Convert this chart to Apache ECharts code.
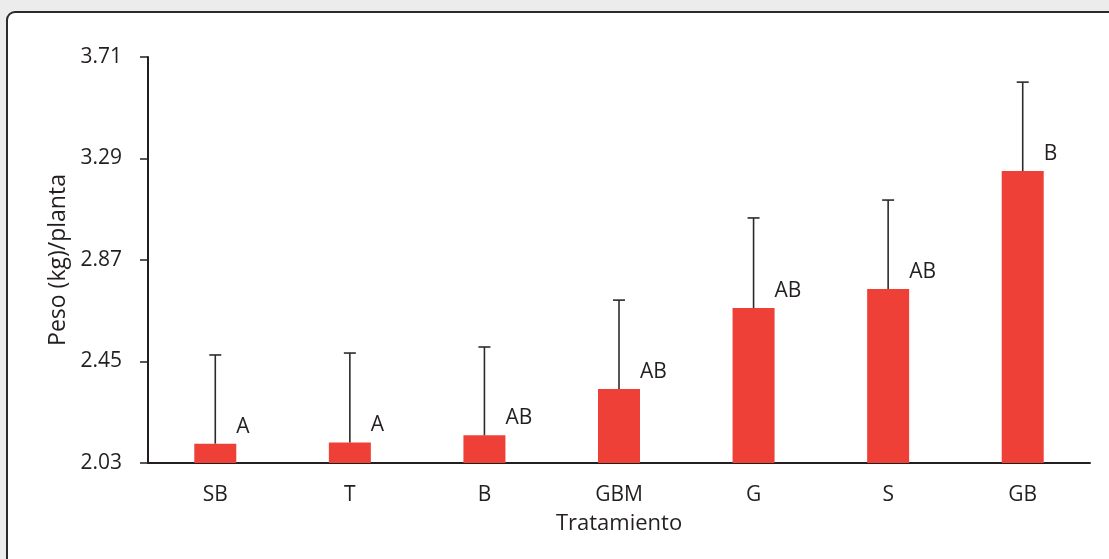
<!DOCTYPE html>
<html>
<head>
<meta charset="utf-8">
<script src="https://cdn.jsdelivr.net/npm/echarts@6/dist/echarts.min.js"></script>
<style>
  html, body { margin: 0; padding: 0; background: #ebeceb; }
  #chart { width: 1109px; height: 559px; }
</style>
</head>
<body>
<div id="chart"></div>
<script>
// Treatments, mean plant weight (kg), standard deviation and significance letters
const categories = ['SB', 'T', 'B', 'GBM', 'G', 'S', 'GB'];
const means = [2.11, 2.115, 2.145, 2.336, 2.671, 2.75, 3.238];
const errors = [0.367, 0.37, 0.365, 0.368, 0.373, 0.368, 0.368];
const letters = ['A', 'A', 'AB', 'AB', 'AB', 'AB', 'B'];
const yTicks = [2.03, 2.45, 2.87, 3.29, 3.71];

const FONT = '"Open Sans", "Noto Sans", sans-serif';
const INK = '#231f20';
const BAR_W = 42;

const chart = echarts.init(document.getElementById('chart'), null, { renderer: 'canvas' });

const errData = categories.map((c, i) => [i, means[i], errors[i]]);

chart.setOption({
  backgroundColor: '#ebeceb',
  animation: false,
  graphic: [{
    type: 'rect',
    z: -10,
    silent: true,
    shape: { x: 7, y: 12, width: 1300, height: 700, r: 8 },
    style: { fill: '#ffffff', stroke: '#2b2b2b', lineWidth: 2 }
  }],
  grid: { left: 148, right: 19, top: 57, bottom: 96 },
  xAxis: {
    type: 'category',
    data: categories,
    name: 'Tratamiento',
    nameLocation: 'middle',
    nameGap: 50,
    nameTextStyle: { fontFamily: FONT, fontSize: 22, color: INK },
    axisLine: { lineStyle: { color: INK, width: 2 } },
    axisTick: { show: false },
    axisLabel: { fontFamily: FONT, fontSize: 21, color: INK, margin: 22 }
  },
  yAxis: {
    type: 'value',
    min: yTicks[0],
    max: yTicks[yTicks.length - 1],
    name: 'Peso (kg)/planta',
    nameLocation: 'middle',
    nameGap: 76,
    nameTextStyle: { fontFamily: FONT, fontSize: 23, color: INK },
    axisLine: { show: true, lineStyle: { color: INK, width: 2 } },
    axisTick: { show: true, length: 8, lineStyle: { color: INK, width: 1.5 }, customValues: yTicks },
    axisLabel: {
      fontFamily: FONT, fontSize: 21, color: INK, margin: 26,
      customValues: yTicks,
      formatter: v => v.toFixed(2)
    },
    splitLine: { show: false }
  },
  series: [
    {
      type: 'bar',
      data: means,
      barWidth: BAR_W,
      itemStyle: { color: '#ef4037' },
      z: 2
    },
    {
      type: 'custom',
      data: errData,
      z: 3,
      renderItem: function (params, api) {
        const idx = api.value(0);
        const mean = api.value(1);
        const err = api.value(2);
        const letter = letters[params.dataIndex];
        const base = api.coord([idx, mean]);
        const top = api.coord([idx, mean + err]);
        const cap = 6;
        const ls = { stroke: '#2b2b2b', lineWidth: 1.6 };
        return {
          type: 'group',
          children: [
            { type: 'line', shape: { x1: base[0], y1: base[1], x2: top[0], y2: top[1] }, style: ls },
            { type: 'line', shape: { x1: top[0] - cap, y1: top[1], x2: top[0] + cap, y2: top[1] }, style: ls },
            {
              type: 'text',
              style: {
                text: letter,
                x: base[0] + BAR_W / 2,
                y: base[1] - 17,
                align: 'left',
                verticalAlign: 'middle',
                fontFamily: FONT,
                fontSize: 21,
                fill: INK
              }
            }
          ]
        };
      }
    }
  ]
});
</script>
</body>
</html>
